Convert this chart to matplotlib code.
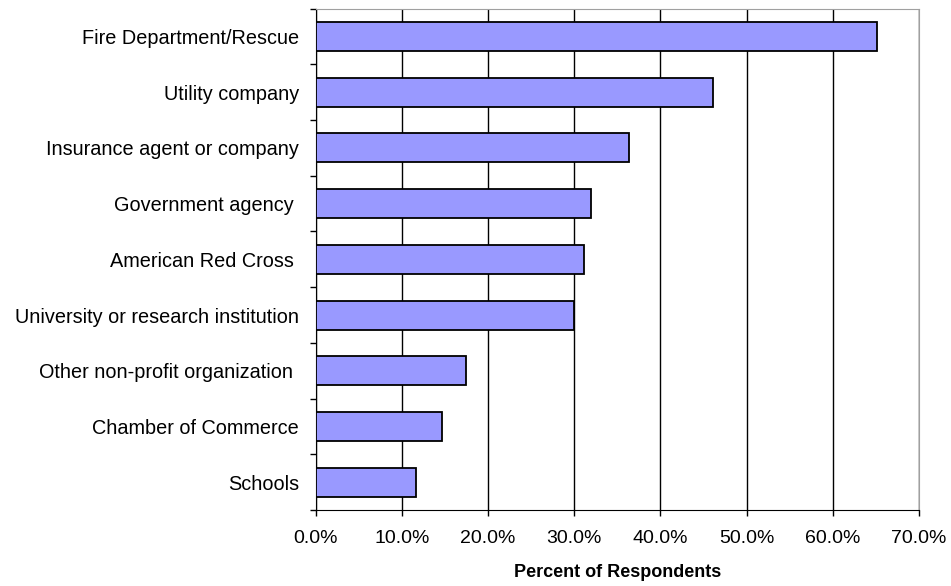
import matplotlib
matplotlib.use("Agg")
import matplotlib.pyplot as plt
from matplotlib.ticker import PercentFormatter, FixedLocator

plt.rcParams['font.family'] = ['Liberation Sans', 'DejaVu Sans']

# data (top to bottom)
categories = [
    'Fire Department/Rescue',
    'Utility company',
    'Insurance agent or company',
    'Government agency ',
    'American Red Cross ',
    'University or research institution',
    'Other non-profit organization ',
    'Chamber of Commerce',
    'Schools',
]
percent = [65.1, 46.1, 36.4, 32.0, 31.1, 30.0, 17.5, 14.7, 11.6]
x_ticks = [0, 10, 20, 30, 40, 50, 60, 70]

fig = plt.figure(figsize=(9.51, 5.86), dpi=100)
ax = fig.add_axes([0.3318, 0.1297, 0.6347, 0.8555])

y = list(range(len(categories)))
ax.barh(y, percent, height=0.52, color='#9999FF', edgecolor='black',
        linewidth=1.3, zorder=3)

ax.set_ylim(len(categories) - 0.5, -0.5)
ax.set_xlim(0, 70)

ax.set_yticks(y)
ax.set_yticklabels(categories, fontsize=14.3)
ax.tick_params(axis='y', which='major', length=0, pad=12)
# tick marks sit between the categories
ax.yaxis.set_minor_locator(FixedLocator([i - 0.5 for i in range(len(categories) + 1)]))
ax.tick_params(axis='y', which='minor', length=4.5, width=1, direction='out')

ax.set_xticks(x_ticks)
ax.xaxis.set_major_formatter(PercentFormatter(decimals=1))
ax.tick_params(axis='x', length=4.5, width=1, direction='out', labelsize=14, pad=10)

ax.grid(True, axis='x', color='black', linewidth=1, zorder=0)

ax.spines['left'].set_color('black')
ax.spines['bottom'].set_color('black')
ax.spines['top'].set_color('#a0a0a0')
ax.spines['right'].set_color('#a0a0a0')

ax.set_xlabel('Percent of Respondents', fontsize=13, fontweight='bold', labelpad=12)

fig.savefig('out.png', dpi=100)
